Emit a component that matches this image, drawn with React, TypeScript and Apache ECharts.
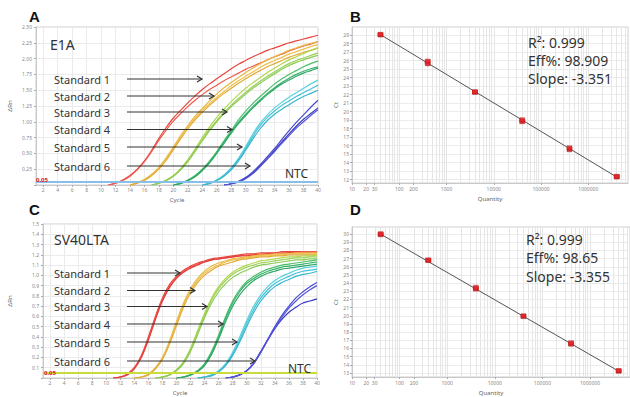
import React, { useEffect, useRef } from "react";
import * as echarts from "echarts";

// ---------- Amplification plots (cycles / ΔRn) ----------
const CYCLE_TICKS = [2, 4, 6, 8, 10, 12, 14, 16, 18, 20, 22, 24, 26, 28, 30, 32, 34, 36, 38, 40];
const THRESHOLD = 0.05;

// first cycle of each stored curve, per standard
const E1A_STARTS = [11, 14, 17, 20, 24, 27];
const SV40_STARTS = [11, 14, 17, 20, 23, 27];

const E1A_STD1 = [
  [0.0, 0.03, 0.08, 0.15, 0.25, 0.38, 0.55, 0.74, 0.91, 1.06, 1.18, 1.3, 1.41, 1.51, 1.6, 1.68, 1.76, 1.84, 1.91, 1.97, 2.03, 2.08, 2.13, 2.17, 2.21, 2.25, 2.28, 2.31, 2.34, 2.37],
  [0.0, 0.03, 0.07, 0.14, 0.24, 0.37, 0.53, 0.71, 0.87, 1.01, 1.13, 1.24, 1.34, 1.43, 1.51, 1.58, 1.65, 1.71, 1.77, 1.83, 1.88, 1.93, 1.98, 2.03, 2.07, 2.12, 2.16, 2.2, 2.23, 2.27],
];
const E1A_STD2 = [
  [0.0, 0.04, 0.09, 0.17, 0.28, 0.43, 0.6, 0.78, 0.94, 1.09, 1.21, 1.33, 1.44, 1.54, 1.62, 1.7, 1.78, 1.85, 1.92, 1.98, 2.03, 2.08, 2.13, 2.17, 2.21, 2.24, 2.27],
  [0.0, 0.03, 0.08, 0.16, 0.27, 0.41, 0.58, 0.76, 0.92, 1.06, 1.18, 1.29, 1.39, 1.48, 1.57, 1.65, 1.72, 1.79, 1.86, 1.92, 1.97, 2.02, 2.07, 2.11, 2.15, 2.19, 2.22],
  [0.0, 0.03, 0.07, 0.15, 0.25, 0.39, 0.56, 0.73, 0.89, 1.03, 1.15, 1.26, 1.36, 1.45, 1.53, 1.61, 1.68, 1.75, 1.81, 1.87, 1.92, 1.97, 2.02, 2.06, 2.1, 2.13, 2.17],
];
const E1A_STD3 = [
  [0.0, 0.03, 0.08, 0.15, 0.26, 0.4, 0.57, 0.75, 0.92, 1.07, 1.2, 1.32, 1.43, 1.53, 1.62, 1.7, 1.78, 1.85, 1.92, 1.98, 2.03, 2.08, 2.13, 2.17],
  [0.0, 0.03, 0.07, 0.14, 0.25, 0.38, 0.55, 0.72, 0.88, 1.02, 1.15, 1.26, 1.37, 1.47, 1.56, 1.64, 1.72, 1.79, 1.86, 1.92, 1.97, 2.01, 2.05, 2.09],
  [0.0, 0.03, 0.07, 0.14, 0.24, 0.37, 0.53, 0.7, 0.86, 1.0, 1.13, 1.24, 1.34, 1.44, 1.53, 1.61, 1.69, 1.76, 1.83, 1.89, 1.94, 1.98, 2.02, 2.05],
];
const E1A_STD4 = [
  [0.0, 0.03, 0.08, 0.15, 0.25, 0.38, 0.53, 0.7, 0.86, 1.03, 1.17, 1.29, 1.4, 1.5, 1.6, 1.68, 1.75, 1.81, 1.87, 1.92, 1.96],
  [0.0, 0.03, 0.07, 0.14, 0.24, 0.36, 0.51, 0.68, 0.84, 0.99, 1.12, 1.24, 1.35, 1.45, 1.54, 1.62, 1.69, 1.75, 1.8, 1.84, 1.87],
  [0.0, 0.02, 0.07, 0.13, 0.23, 0.35, 0.5, 0.66, 0.82, 0.97, 1.1, 1.22, 1.33, 1.43, 1.52, 1.6, 1.66, 1.72, 1.77, 1.81, 1.85],
];
const E1A_STD5 = [
  [0.0, 0.03, 0.08, 0.16, 0.27, 0.42, 0.61, 0.81, 0.98, 1.11, 1.22, 1.31, 1.39, 1.46, 1.53, 1.6, 1.66],
  [0.0, 0.03, 0.07, 0.15, 0.26, 0.4, 0.58, 0.77, 0.94, 1.07, 1.17, 1.26, 1.33, 1.4, 1.46, 1.52, 1.58],
  [0.0, 0.02, 0.07, 0.14, 0.24, 0.38, 0.55, 0.73, 0.89, 1.02, 1.12, 1.2, 1.27, 1.34, 1.4, 1.45, 1.5],
];
const E1A_STD6 = [
  [0.0, 0.02, 0.06, 0.12, 0.21, 0.32, 0.45, 0.58, 0.72, 0.86, 0.99, 1.11, 1.23, 1.34],
  [0.0, 0.02, 0.05, 0.11, 0.19, 0.3, 0.42, 0.55, 0.68, 0.81, 0.93, 1.04, 1.13, 1.22],
  [0.0, 0.02, 0.05, 0.1, 0.18, 0.29, 0.41, 0.53, 0.66, 0.78, 0.9, 1.0, 1.1, 1.19],
];

const SV40_STD1 = [
  [0.0, 0.01, 0.04, 0.1, 0.22, 0.4, 0.6, 0.78, 0.91, 0.99, 1.05, 1.09, 1.12, 1.14, 1.16, 1.17, 1.18, 1.19, 1.2, 1.21, 1.21, 1.22, 1.22, 1.22, 1.23, 1.23, 1.23, 1.23, 1.23, 1.23],
  [0.0, 0.01, 0.04, 0.1, 0.21, 0.38, 0.58, 0.76, 0.89, 0.98, 1.04, 1.08, 1.11, 1.13, 1.15, 1.16, 1.17, 1.18, 1.19, 1.2, 1.2, 1.21, 1.21, 1.22, 1.22, 1.22, 1.22, 1.23, 1.23, 1.23],
  [0.0, 0.01, 0.03, 0.09, 0.2, 0.37, 0.57, 0.75, 0.88, 0.97, 1.03, 1.07, 1.1, 1.13, 1.15, 1.16, 1.17, 1.18, 1.19, 1.19, 1.2, 1.2, 1.21, 1.21, 1.21, 1.22, 1.22, 1.22, 1.22, 1.22],
];
const SV40_STD2 = [
  [0.0, 0.01, 0.04, 0.1, 0.2, 0.36, 0.55, 0.73, 0.87, 0.97, 1.04, 1.09, 1.12, 1.14, 1.16, 1.17, 1.18, 1.19, 1.2, 1.2, 1.21, 1.21, 1.21, 1.22, 1.22, 1.22, 1.22],
  [0.0, 0.01, 0.04, 0.09, 0.19, 0.34, 0.53, 0.71, 0.85, 0.95, 1.02, 1.07, 1.1, 1.13, 1.15, 1.16, 1.17, 1.18, 1.19, 1.19, 1.2, 1.2, 1.21, 1.21, 1.21, 1.21, 1.21],
  [0.0, 0.01, 0.03, 0.09, 0.18, 0.33, 0.51, 0.69, 0.83, 0.93, 1.0, 1.05, 1.09, 1.11, 1.13, 1.15, 1.16, 1.17, 1.18, 1.18, 1.19, 1.19, 1.2, 1.2, 1.2, 1.2, 1.2],
];
const SV40_STD3 = [
  [0.0, 0.01, 0.03, 0.08, 0.16, 0.29, 0.46, 0.63, 0.78, 0.89, 0.97, 1.03, 1.07, 1.1, 1.12, 1.14, 1.15, 1.16, 1.17, 1.18, 1.18, 1.19, 1.19, 1.2],
  [0.0, 0.01, 0.03, 0.08, 0.15, 0.27, 0.44, 0.61, 0.76, 0.87, 0.95, 1.01, 1.05, 1.08, 1.1, 1.12, 1.13, 1.14, 1.15, 1.16, 1.17, 1.17, 1.18, 1.18],
  [0.0, 0.01, 0.03, 0.07, 0.14, 0.26, 0.42, 0.59, 0.73, 0.84, 0.92, 0.98, 1.02, 1.05, 1.08, 1.1, 1.11, 1.12, 1.13, 1.14, 1.15, 1.15, 1.16, 1.16],
];
const SV40_STD4 = [
  [0.0, 0.01, 0.03, 0.07, 0.14, 0.26, 0.42, 0.6, 0.75, 0.86, 0.94, 0.99, 1.03, 1.06, 1.08, 1.1, 1.11, 1.12, 1.13, 1.14, 1.15],
  [0.0, 0.01, 0.03, 0.07, 0.13, 0.24, 0.4, 0.58, 0.73, 0.84, 0.92, 0.97, 1.01, 1.04, 1.06, 1.08, 1.09, 1.1, 1.11, 1.12, 1.13],
  [0.0, 0.01, 0.03, 0.06, 0.12, 0.23, 0.38, 0.55, 0.7, 0.81, 0.89, 0.95, 0.99, 1.02, 1.04, 1.06, 1.07, 1.08, 1.09, 1.1, 1.11],
];
const SV40_STD5 = [
  [0.0, 0.01, 0.03, 0.07, 0.14, 0.25, 0.4, 0.56, 0.7, 0.81, 0.89, 0.95, 0.99, 1.02, 1.05, 1.07, 1.08, 1.09],
  [0.0, 0.01, 0.03, 0.06, 0.13, 0.23, 0.37, 0.53, 0.67, 0.78, 0.86, 0.92, 0.96, 0.99, 1.02, 1.04, 1.05, 1.06],
  [0.0, 0.01, 0.02, 0.06, 0.12, 0.22, 0.35, 0.5, 0.64, 0.75, 0.83, 0.89, 0.93, 0.96, 0.99, 1.01, 1.02, 1.04],
];
const SV40_STD6 = [
  [0.0, 0.01, 0.03, 0.07, 0.15, 0.26, 0.38, 0.5, 0.61, 0.7, 0.78, 0.84, 0.89, 0.93],
  [0.0, 0.01, 0.03, 0.07, 0.14, 0.25, 0.37, 0.48, 0.57, 0.64, 0.69, 0.73, 0.75, 0.77],
  [0.0, 0.01, 0.03, 0.07, 0.14, 0.25, 0.37, 0.49, 0.59, 0.68, 0.75, 0.81, 0.86, 0.9],
];

const E1A_GROUPS = [E1A_STD1, E1A_STD2, E1A_STD3, E1A_STD4, E1A_STD5, E1A_STD6];
const SV40_GROUPS = [SV40_STD1, SV40_STD2, SV40_STD3, SV40_STD4, SV40_STD5, SV40_STD6];

const STD_COLORS = [
  ["#e8453c", "#ef5b4d", "#e43b3b"],
  ["#e8b846", "#f0c24a", "#e2a93a"],
  ["#b2d84e", "#9bd05a", "#8bcb55"],
  ["#4cbf6a", "#36b36c", "#2fa866"],
  ["#58d0e0", "#44c2d6", "#3ab5cf"],
  ["#4a4ad0", "#3a3ac0", "#5656da"],
];

// ---------- Standard curves (quantity / Ct) ----------
const QUANTITIES = [40, 400, 4000, 40000, 400000, 4000000];
const E1A_CT = [
  [29.0, 29.05, 29.1],
  [25.6, 25.8, 25.95],
  [22.25, 22.3, 22.35],
  [18.8, 18.9, 19.05],
  [15.5, 15.62, 15.75],
  [12.3, 12.35, 12.4],
];
const SV40_CT = [
  [29.9, 30.0, 30.05],
  [26.75, 26.8, 26.85],
  [23.25, 23.35, 23.5],
  [19.9, 19.95, 20.0],
  [16.5, 16.6, 16.7],
  [13.2, 13.25, 13.3],
];
const E1A_SLOPE = -3.351;
const E1A_INTERCEPT = 34.42;
const SV40_SLOPE = -3.355;
const SV40_INTERCEPT = 35.37;

const QTY_LABELS = [10, 20, 30, 100, 200, 1000, 10000, 100000, 1000000];
const E1A_CT_TICKS = [12, 13, 14, 15, 16, 17, 18, 19, 20, 21, 22, 23, 24, 25, 26, 27, 28, 29];
const SV40_CT_TICKS = [13, 14, 15, 16, 17, 18, 19, 20, 21, 22, 23, 24, 25, 26, 27, 28, 29, 30];
const LOG_MIN = 1;
const LOG_MAX = 6.84;

const FONT = "Noto Sans";
const INK = "#333";

function ampSeries(groups: number[][][], starts: number[], axisIndex: number) {
  const out: any[] = [];
  groups.forEach((reps, g) => {
    reps.forEach((vals, r) => {
      out.push({
        type: "line",
        xAxisIndex: axisIndex,
        yAxisIndex: axisIndex,
        data: vals.map((v, i) => [starts[g] + i, v]),
        showSymbol: false,
        smooth: 0.4,
        lineStyle: { width: 1.2, color: STD_COLORS[g][r % 3] },
        z: 3,
        silent: true,
      });
    });
  });
  return out;
}

function logGridLines() {
  const vals: number[] = [];
  for (let d = 1; d <= 6; d++) {
    for (let m = 1; m <= 9; m++) {
      const lv = d + Math.log10(m);
      if (lv <= LOG_MAX) vals.push(lv);
    }
  }
  return vals.map((v) => ({ xAxis: v }));
}

function stdSeries(cts: number[][], slope: number, intercept: number, axisIndex: number) {
  const pts: number[][] = [];
  cts.forEach((reps, i) => reps.forEach((ct) => pts.push([Math.log10(QUANTITIES[i]), ct])));
  const x0 = Math.log10(QUANTITIES[0]);
  const x1 = Math.log10(QUANTITIES[QUANTITIES.length - 1]);
  return [
    {
      type: "line",
      xAxisIndex: axisIndex,
      yAxisIndex: axisIndex,
      data: [],
      z: 0,
      silent: true,
      markLine: {
        z: 0,
        silent: true,
        symbol: ["none", "none"],
        label: { show: false },
        lineStyle: { color: "#e6e6e6", width: 1, type: "solid" },
        data: logGridLines(),
      },
    },
    {
      type: "line",
      xAxisIndex: axisIndex,
      yAxisIndex: axisIndex,
      data: [
        [x0, intercept + slope * x0],
        [x1, intercept + slope * x1],
      ],
      showSymbol: false,
      lineStyle: { color: "#555", width: 1 },
      z: 6,
      silent: true,
    },
    {
      type: "scatter",
      xAxisIndex: axisIndex,
      yAxisIndex: axisIndex,
      data: pts,
      symbol: "rect",
      symbolSize: [5, 4],
      itemStyle: { color: "#e5262a", borderColor: "#a51515", borderWidth: 0.4 },
      z: 7,
      silent: true,
    },
  ];
}

const tickLabel = { fontSize: 5, color: "#888", fontFamily: FONT };
const gridLine = { show: true, lineStyle: { color: "#ebebeb", width: 1 } };
const axisLineStyle = { show: true, lineStyle: { color: "#c8c8c8" } };
const nameStyle = { fontSize: 6, color: "#666", fontFamily: FONT };

function cycleAxis(gridIndex: number) {
  return {
    type: "value",
    gridIndex,
    min: 1,
    max: 40,
    axisLine: axisLineStyle,
    axisTick: { show: true, length: 2, customValues: CYCLE_TICKS, lineStyle: { color: "#aaa" } },
    axisLabel: { ...tickLabel, customValues: CYCLE_TICKS, margin: 2 },
    splitLine: gridLine,
    name: "Cycle",
    nameLocation: "middle",
    nameGap: 12,
    nameTextStyle: nameStyle,
  };
}

function qtyAxis(gridIndex: number) {
  const ticks = QTY_LABELS.map((q) => Math.log10(q));
  return {
    type: "value",
    gridIndex,
    min: LOG_MIN,
    max: LOG_MAX,
    axisLine: axisLineStyle,
    axisTick: { show: true, length: 2, customValues: ticks, lineStyle: { color: "#aaa" } },
    axisLabel: {
      ...tickLabel,
      customValues: ticks,
      showMinLabel: true,
      margin: 3,
      formatter: (v: number) => String(Math.round(Math.pow(10, v))),
    },
    splitLine: { show: false },
    name: "Quantity",
    nameLocation: "middle",
    nameGap: 13,
    nameTextStyle: nameStyle,
  };
}

function ctAxis(gridIndex: number, min: number, max: number, ticks: number[]) {
  return {
    type: "value",
    gridIndex,
    min,
    max,
    axisLine: axisLineStyle,
    axisTick: { show: true, length: 2, customValues: ticks, lineStyle: { color: "#aaa" } },
    axisLabel: { ...tickLabel, customValues: ticks, margin: 3 },
    splitLine: gridLine,
    name: "Ct",
    nameLocation: "middle",
    nameGap: 10,
    nameRotate: 90,
    nameTextStyle: nameStyle,
  };
}

function rnAxis(gridIndex: number, max: number, interval: number, digits: number, gap: number) {
  return {
    type: "value",
    gridIndex,
    min: 0,
    max,
    interval,
    axisLine: axisLineStyle,
    axisTick: { show: true, length: 2, lineStyle: { color: "#aaa" } },
    axisLabel: { ...tickLabel, margin: 4, formatter: (v: number) => (v === 0 ? "" : v.toFixed(digits)) },
    splitLine: gridLine,
    name: "ΔRn",
    nameLocation: "middle",
    nameGap: gap,
    nameRotate: 90,
    nameTextStyle: nameStyle,
  };
}

function txt(text: string, x: number, y: number, size: number, extra: any = {}) {
  return {
    type: "text",
    x,
    y,
    z: 100,
    silent: true,
    style: { text, fontSize: size, fontFamily: FONT, fill: INK, verticalAlign: "middle", ...extra },
  };
}

function arrow(x1: number, x2: number, y: number) {
  return [
    { type: "line", z: 100, silent: true, shape: { x1, y1: y, x2, y2: y }, style: { stroke: "#333", lineWidth: 1.2 } },
    {
      type: "polyline",
      z: 100,
      silent: true,
      shape: { points: [[x2 - 5, y - 3], [x2, y], [x2 - 5, y + 3]] },
      style: { stroke: "#333", lineWidth: 1.2, fill: "none" },
    },
  ];
}

const A_LABEL_Y = [79, 96, 112, 129.5, 147, 166];
const A_ARROW_END = [202, 214, 227, 232, 242, 250];
const C_LABEL_Y = [273, 290.5, 306.5, 324, 342, 361];
const C_ARROW_END = [180, 195, 207, 223, 237, 255];

export default function App() {
  const ref = useRef<HTMLDivElement>(null);

  useEffect(() => {
    if (!ref.current) return;
    const chart = echarts.init(ref.current, undefined, { renderer: "svg" });

    const graphics: any[] = [
      txt("A", 29, 16, 15, { fontWeight: "bold", fontFamily: "Liberation Sans", fill: "#111" }),
      txt("B", 350, 16, 15, { fontWeight: "bold", fontFamily: "Liberation Sans", fill: "#111" }),
      txt("C", 29, 209, 15, { fontWeight: "bold", fontFamily: "Liberation Sans", fill: "#111" }),
      txt("D", 350, 209, 15, { fontWeight: "bold", fontFamily: "Liberation Sans", fill: "#111" }),
      txt("E1A", 50, 44, 14),
      txt("SV40LTA", 54, 239, 14),
      txt("NTC", 285, 173, 12),
      txt("NTC", 288, 368, 12),
      txt("0.05", 36, 180, 6, { fill: "#e02020", fontWeight: "bold" }),
      txt("0.05", 44, 373, 6, { fill: "#e02020", fontWeight: "bold" }),
      txt("R²: 0.999", 528, 42, 14),
      txt("Eff%: 98.909", 528, 60, 14),
      txt("Slope: -3.351", 528, 78, 14),
      txt("R²: 0.999", 526, 239, 14),
      txt("Eff%: 98.65", 526, 257.5, 14),
      txt("Slope: -3.355", 526, 276, 14),
    ];
    A_LABEL_Y.forEach((y, i) => {
      graphics.push(txt("Standard " + (i + 1), 54, y, 11));
      graphics.push(...arrow(127, A_ARROW_END[i], y));
    });
    C_LABEL_Y.forEach((y, i) => {
      graphics.push(txt("Standard " + (i + 1), 54, y, 11));
      graphics.push(...arrow(127, C_ARROW_END[i], y));
    });

    const thresholdSeries = (axisIndex: number, color: string) => ({
      type: "line",
      xAxisIndex: axisIndex,
      yAxisIndex: axisIndex,
      data: [],
      z: 2,
      silent: true,
      markLine: {
        silent: true,
        symbol: ["none", "none"],
        label: { show: false },
        lineStyle: { color, width: 2, type: "solid" },
        data: [{ yAxis: THRESHOLD }],
      },
    });

    const option: any = {
      animation: false,
      backgroundColor: "#ffffff",
      textStyle: { fontFamily: FONT },
      grid: [
        { left: 36, top: 27, width: 282, height: 158, show: true, borderColor: "#cfcfcf", borderWidth: 1 },
        { left: 352, top: 27, width: 276, height: 156, show: true, borderColor: "#cfcfcf", borderWidth: 1 },
        { left: 43, top: 224, width: 274, height: 156, show: true, borderColor: "#cfcfcf", borderWidth: 1 },
        { left: 352, top: 227, width: 278, height: 155, show: true, borderColor: "#cfcfcf", borderWidth: 1 },
      ],
      xAxis: [cycleAxis(0), qtyAxis(1), cycleAxis(2), qtyAxis(3)],
      yAxis: [
        rnAxis(0, 2.5, 0.25, 2, 23),
        ctAxis(1, 11.6, 29.95, E1A_CT_TICKS),
        rnAxis(2, 1.5, 0.1, 1, 30),
        ctAxis(3, 12.5, 30.87, SV40_CT_TICKS),
      ],
      series: [
        thresholdSeries(0, "#86bfea"),
        ...ampSeries(E1A_GROUPS, E1A_STARTS, 0),
        ...stdSeries(E1A_CT, E1A_SLOPE, E1A_INTERCEPT, 1),
        thresholdSeries(2, "#c9dc3c"),
        ...ampSeries(SV40_GROUPS, SV40_STARTS, 2),
        ...stdSeries(SV40_CT, SV40_SLOPE, SV40_INTERCEPT, 3),
      ],
      graphic: graphics,
    };
    chart.setOption(option);
    return () => chart.dispose();
  }, []);

  return (
    <div
      ref={ref}
      style={{ position: "absolute", left: 0, top: 0, width: 630, height: 397, background: "#fff" }}
    />
  );
}
